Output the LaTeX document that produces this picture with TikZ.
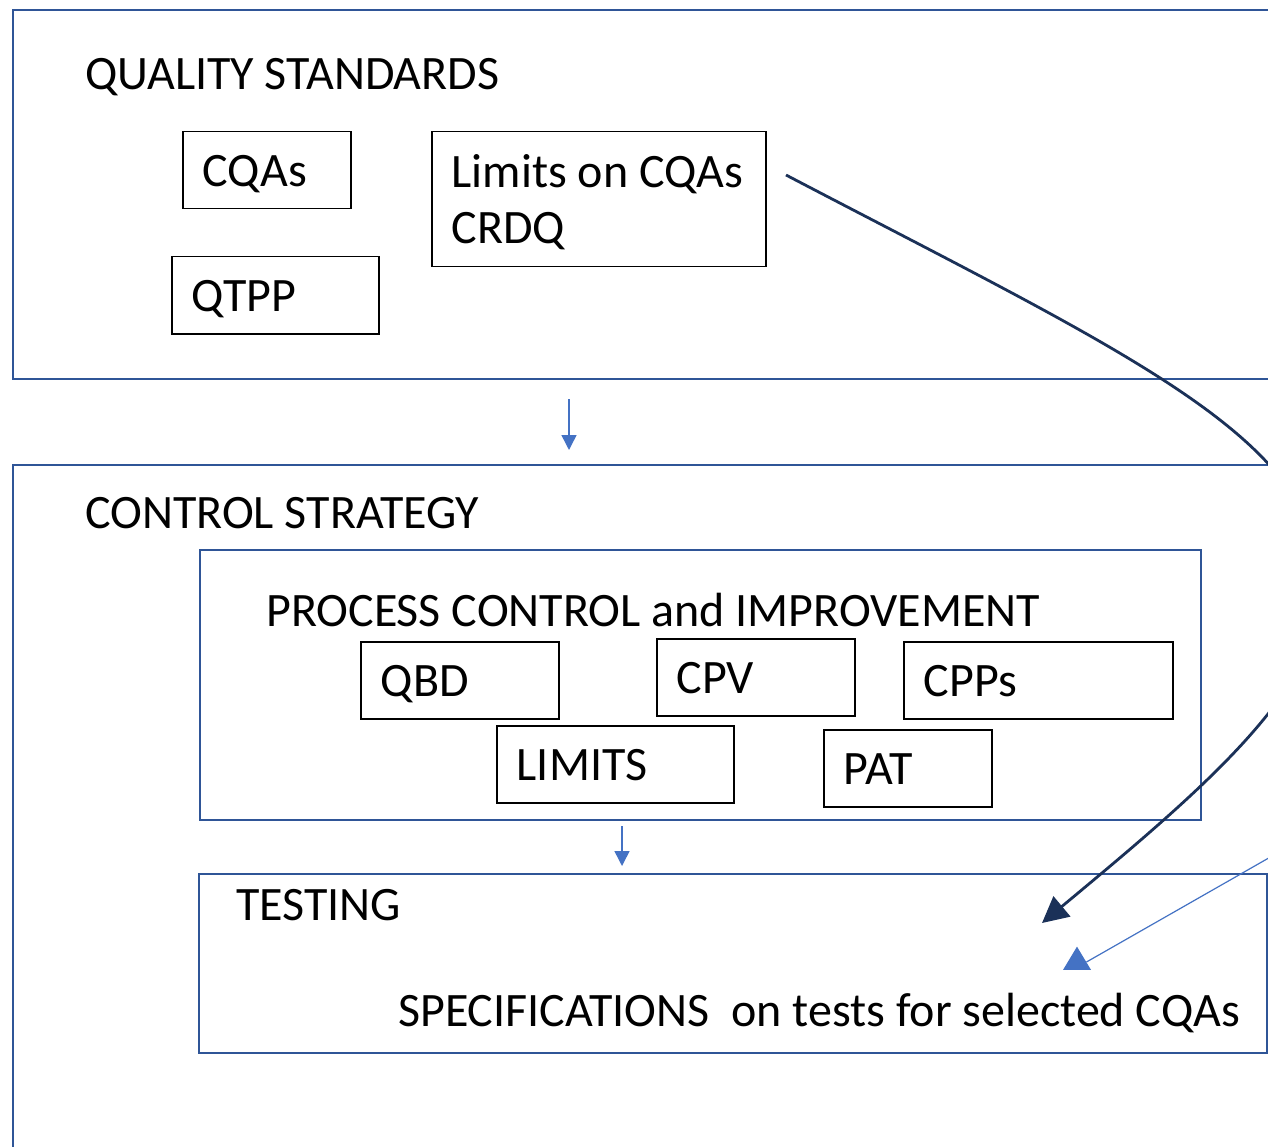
\documentclass[tikz,border=0pt]{standalone}
\usepackage{fontspec}
\setmainfont{Carlito}
\usetikzlibrary{arrows.meta,shapes.geometric,positioning}
\definecolor{frameblue}{HTML}{2F5597}
\definecolor{linkblue}{HTML}{4472C4}
\definecolor{darknavy}{HTML}{1B3158}
\newcommand{\bigfont}{\fontsize{48}{56}\selectfont}
\tikzset{
  framebox/.style={draw=frameblue, line width=2.6pt},
  itembox/.style={draw=black, line width=1.5pt, anchor=north west, inner xsep=20pt, inner ysep=0pt,
    minimum height=77pt, text height=33pt, text depth=0pt, align=flush left, font=\bigfont},
  heading/.style={anchor=base west, inner sep=0pt, font=\bigfont},
  flow/.style={draw=linkblue, line width=1.5pt, -{Triangle[length=15pt,width=15pt]}},
  feed/.style={draw=darknavy, line width=2.8pt, -{Triangle[length=26pt,width=26pt]}},
}

\begin{document}
\begin{tikzpicture}[x=1pt, y=-1pt]
\useasboundingbox (0,0) rectangle (1268,1147);
\fill[white] (0,0) rectangle (1268,1147);
\clip (0,0) rectangle (1268,1147);

% outer frames, running off the right side
\draw[framebox] (13,10) rectangle (1320,379);
\draw[framebox] (13,465) rectangle (1320,1180);
\draw[framebox] (200,550) rectangle (1201,820);
\draw[framebox] (199,874) rectangle (1267,1053);

% quality standards
\node[heading] (qs) at (85,90) {QUALITY STANDARDS};
\node[itembox, text width=128pt] (cqas) at (182,131) {CQAs};
\node[itembox, text width=294pt, minimum height=135pt, text depth=56pt] (lim) at (431,131) {Limits on CQAs\\CRDQ};
\node[itembox, text width=167pt] (qtpp) at (171,256) {QTPP};

% control strategy
\node[heading] (cs) at (85,528) {CONTROL STRATEGY};
\node[heading] (pci) at (266,626) {PROCESS CONTROL and IMPROVEMENT};
\node[itembox, text width=158pt] (qbd) at (360,641) {QBD};
\node[itembox, text width=158pt] (cpv) at (656,638) {CPV};
\node[itembox, text width=229pt] (cpps) at (903,641) {CPPs};
\node[itembox, text width=197pt] (limits) at (496,725) {LIMITS};
\node[itembox, text width=128pt] (pat) at (823,729) {PAT};

% testing
\node[heading] (test) at (236,920) {TESTING};
\node[heading] (spec) at (398,1026) {SPECIFICATIONS\ \ on tests for selected CQAs};

% arrows between the frames
\coordinate (qsout) at (569,399);
\coordinate (csin) at (569,450);
\coordinate (pciout) at (622,826);
\coordinate (testin) at (622,866);
\draw[flow] (qsout) -- (csin);
\draw[flow] (pciout) -- (testin);

% limits fed through to the specifications
\coordinate (limout) at (786,175);
\coordinate (bend) at (1322,590);
\coordinate (specin) at (1042,923);
\draw[feed] (limout) .. controls (1140,360) and (1322,440) .. (bend)
  .. controls (1322,690) and (1197,794) .. (specin);

\coordinate (outside) at (1330,823);
\node[isosceles triangle, isosceles triangle apex angle=62, shape border rotate=90, fill=linkblue,
  inner sep=0pt, minimum height=23pt, minimum width=28pt] (tip) at (1077,962) {};
\draw[linkblue, line width=1.2pt] (outside) -- (tip.east);
\end{tikzpicture}
\end{document}
